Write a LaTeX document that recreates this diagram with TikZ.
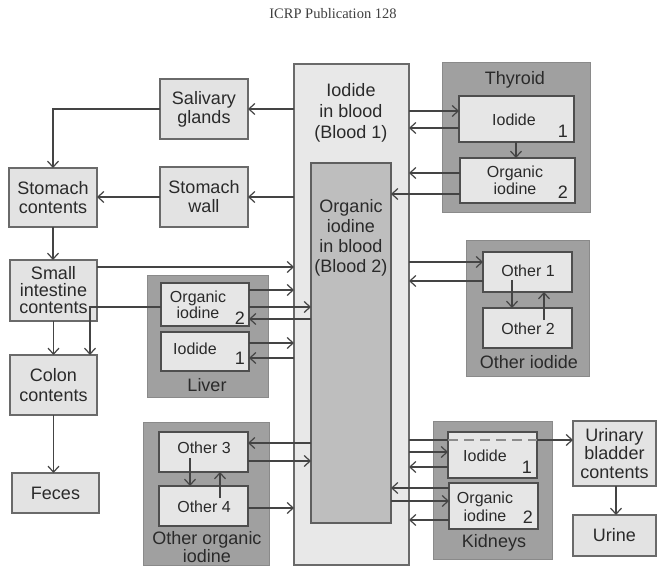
\documentclass[tikz,border=0pt]{standalone}
\usepackage{fontspec}
\setmainfont{Liberation Sans}
\newfontfamily\ttlfont{Liberation Serif}
\usetikzlibrary{arrows.meta}
\definecolor{lbox}{HTML}{E3E3E3}
\definecolor{bord}{HTML}{6A6A6A}
\definecolor{gfill}{HTML}{A0A0A0}
\definecolor{gbord}{HTML}{8A8A8A}
\definecolor{ibfill}{HTML}{E6E6E6}
\definecolor{ibord}{HTML}{4E4E4E}
\definecolor{bone}{HTML}{E8E8E8}
\definecolor{btwo}{HTML}{BEBEBE}
\definecolor{txt}{HTML}{2A2A2A}
\definecolor{lcol}{HTML}{444444}
\definecolor{dcol}{HTML}{8C8C8C}
\begin{document}
\begin{tikzpicture}[x=1pt,y=-1pt,
  box/.style={draw=bord, fill=lbox, line width=1.4pt, inner sep=0pt, outer sep=0pt,
    align=center, text=txt, font=\fontsize{18}{19}\selectfont},
  grp/.style={draw=gbord, fill=gfill, line width=1pt, inner sep=0pt, outer sep=0pt},
  ibox/.style={draw=ibord, fill=ibfill, line width=1.4pt, inner sep=0pt, outer sep=0pt},
  lab/.style={text=txt, align=center, inner sep=0pt, font=\fontsize{18}{19}\selectfont},
  slab/.style={text=txt, align=center, inner sep=0pt, font=\fontsize{16}{16}\selectfont},
  num/.style={text=txt, inner sep=0pt, font=\fontsize{18}{18}\selectfont},
  ln/.style={draw=lcol, line width=1.3pt},
  arr/.style={ln, -{Straight Barb[length=6pt,width=11pt,line width=1.2pt]}}]
\useasboundingbox (0,0) rectangle (657,567);
\fill[white] (0,0) rectangle (657,567);

% title
\node[text=black!75, inner sep=0pt, font=\ttlfont\fontsize{14.5}{14.5}\selectfont] (title) at (333,14) {ICRP Publication 128};

% blood
\node[draw=bord, fill=bone, line width=1.4pt, inner sep=0pt, outer sep=0pt, minimum width=115pt, minimum height=501pt] (blood1) at (351.5,314.5) {};
\node[draw=bord!90!black, fill=btwo, line width=1.4pt, inner sep=0pt, outer sep=0pt, minimum width=80pt, minimum height=360pt] (blood2) at (351,343) {};
\node[lab, font=\fontsize{18}{21}\selectfont] (b1lab) at (351,113) {Iodide\\in blood\\(Blood 1)};
\node[lab, font=\fontsize{18}{20}\selectfont] (b2lab) at (351,238) {Organic\\iodine\\in blood\\(Blood 2)};

% left column
\node[box, minimum width=88pt, minimum height=60pt] (saliv) at (204,109) {Salivary\\glands};
\node[box, minimum width=88pt, minimum height=59pt] (stomc) at (53,197.5) {Stomach\\contents};
\node[box, minimum width=88pt, minimum height=60pt] (stomw) at (204,197) {Stomach\\wall};
\node[box, minimum width=87pt, minimum height=61pt, font=\fontsize{18}{17}\selectfont] (smint) at (53.5,290.5) {Small\\intestine\\contents};
\node[box, minimum width=87pt, minimum height=60pt, font=\fontsize{18}{20}\selectfont] (colon) at (53.5,385) {Colon\\contents};
\node[box, minimum width=87pt, minimum height=40pt] (feces) at (55.5,493) {Feces};

% liver
\node[grp, minimum width=121pt, minimum height=121pt] (liver) at (207.5,336.5) {};
\node[lab] (liverlab) at (207,385) {Liver};
\node[ibox, minimum width=88pt, minimum height=43pt] (livorg) at (205,304.5) {};
\node[slab] (livorglab) at (198,305) {Organic\\iodine};
\node[num] (livorgn) at (240,318) {2};
\node[ibox, minimum width=88pt, minimum height=39pt] (livio) at (205,351.5) {};
\node[slab] (liviolab) at (195,349) {Iodide};
\node[num] (livion) at (240,358) {1};

% thyroid
\node[grp, minimum width=148pt, minimum height=150pt] (thyr) at (516,138) {};
\node[lab] (thyrlab) at (515,80) {Thyroid};
\node[ibox, minimum width=115pt, minimum height=46pt] (thyio) at (516.5,119) {};
\node[slab] (thyiolab) at (514,120) {Iodide};
\node[num] (thyion) at (563,131) {1};
\node[ibox, minimum width=115pt, minimum height=45pt] (thyorg) at (517.5,180.5) {};
\node[slab, font=\fontsize{16}{17}\selectfont] (thyorglab) at (515,180) {Organic\\iodine};
\node[num] (thyorgn) at (563,192) {2};

% other iodide
\node[grp, minimum width=123pt, minimum height=135pt] (othi) at (527.5,308.5) {};
\node[lab] (othilab) at (529,362) {Other iodide};
\node[ibox, minimum width=89pt, minimum height=40pt] (oth1) at (527.5,272) {};
\node[slab] (oth1lab) at (528,271) {Other 1};
\node[ibox, minimum width=89pt, minimum height=40pt] (oth2) at (527.5,328) {};
\node[slab] (oth2lab) at (528,329) {Other 2};

% other organic iodine
\node[grp, minimum width=126pt, minimum height=143pt] (othorg) at (206,493.5) {};
\node[lab, font=\fontsize{18}{15}\selectfont] (othorglab) at (207,547) {Other organic\\iodine};
\node[ibox, minimum width=89pt, minimum height=40pt] (oth3) at (203.5,452) {};
\node[slab] (oth3lab) at (204,448) {Other 3};
\node[ibox, minimum width=89pt, minimum height=40pt] (oth4) at (203.5,506) {};
\node[slab] (oth4lab) at (204,507) {Other 4};

% kidneys
\node[grp, minimum width=119pt, minimum height=138pt] (kid) at (492.5,490) {};
\node[lab] (kidlab) at (494,543) {Kidneys};
\node[ibox, minimum width=89pt, minimum height=46pt] (kidio) at (492.5,455) {};
\node[slab] (kidiolab) at (485,456) {Iodide};
\node[num] (kidion) at (527,467) {1};
\node[ibox, minimum width=89pt, minimum height=46pt] (kidorg) at (493.5,506) {};
\node[slab, font=\fontsize{16}{18}\selectfont] (kidorglab) at (485,507) {Organic\\iodine};
\node[num] (kidorgn) at (528,517) {2};

% bladder, urine
\node[box, minimum width=83pt, minimum height=65pt, font=\fontsize{18}{18.5}\selectfont] (bladder) at (614.5,453.5) {Urinary\\bladder\\contents};
\node[box, minimum width=83pt, minimum height=41pt] (urine) at (614.5,535.5) {Urine};

% ---- connectors ----
\draw[arr] (blood1.west |- saliv.east) -- (saliv.east);
\draw[arr] (saliv.west) -| (stomc.north);
\draw[arr] (blood1.west |- stomw.east) -- (stomw.east);
\draw[arr] (stomw.west) -- (stomc.east |- stomw.west);
\draw[arr] (stomc.south) -- (stomc.south |- smint.north);
\draw[arr] (smint.east |- 0,267) -- (blood1.west |- 0,267);
\draw[arr] (smint.south) -- (smint.south |- colon.north);
\draw[arr] (colon.south) -- (colon.south |- feces.north);
\coordinate (bile) at (90,307);
\draw[arr] (livorg.west |- bile) -- (bile) -- (bile |- colon.north);

% liver <-> blood
\draw[arr] (livorg.east |- 0,290) -- (blood1.west |- 0,290);
\draw[arr] (livorg.east |- 0,307) -- (blood2.west |- 0,307);
\draw[arr] (blood2.west |- 0,319) -- (livorg.east |- 0,319);
\draw[arr] (livio.east |- 0,343) -- (blood1.west |- 0,343);
\draw[arr] (blood1.west |- 0,358) -- (livio.east |- 0,358);

% thyroid
\draw[arr] (blood1.east |- 0,111) -- (thyio.west |- 0,111);
\draw[arr] (thyio.west |- 0,128) -- (blood1.east |- 0,128);
\draw[arr] (thyio.south -| 516,0) -- (thyorg.north -| 516,0);
\draw[arr] (thyorg.west |- 0,173) -- (blood1.east |- 0,173);
\draw[arr] (thyorg.west |- 0,194) -- (blood2.east |- 0,194);

% other iodide
\draw[arr] (blood1.east |- 0,262) -- (oth1.west |- 0,262);
\draw[arr] (oth1.west |- 0,281) -- (blood1.east |- 0,281);
\draw[arr] (512,280) -- (oth2.north -| 512,0);
\draw[arr] (544,320) -- (oth1.south -| 544,0);

% other organic
\draw[arr] (blood2.west |- 0,443) -- (oth3.east |- 0,443);
\draw[arr] (oth3.east |- 0,461) -- (blood2.west |- 0,461);
\draw[arr] (oth4.east |- 0,508) -- (blood1.west |- 0,508);
\draw[arr] (190,458) -- (oth4.north -| 190,0);
\draw[arr] (220,498) -- (oth3.south -| 220,0);

% kidneys
\draw[ln] (blood1.east |- 0,440) -- (kidio.west |- 0,440);
\draw[draw=dcol, line width=1.3pt, dash pattern=on 10pt off 6pt] (kidio.west |- 0,440) -- (kidio.east |- 0,440);
\draw[arr] (kidio.east |- 0,440) -- (bladder.west |- 0,440);
\draw[arr] (blood1.east |- 0,452) -- (kidio.west |- 0,452);
\draw[arr] (kidio.west |- 0,467) -- (blood1.east |- 0,467);
\draw[arr] (kidorg.west |- 0,488) -- (blood2.east |- 0,488);
\draw[arr] (blood2.east |- 0,501) -- (kidorg.west |- 0,501);
\draw[arr] (kidorg.west |- 0,520) -- (blood1.east |- 0,520);
\draw[arr] (bladder.south -| 616,0) -- (urine.north -| 616,0);
\end{tikzpicture}
\end{document}
